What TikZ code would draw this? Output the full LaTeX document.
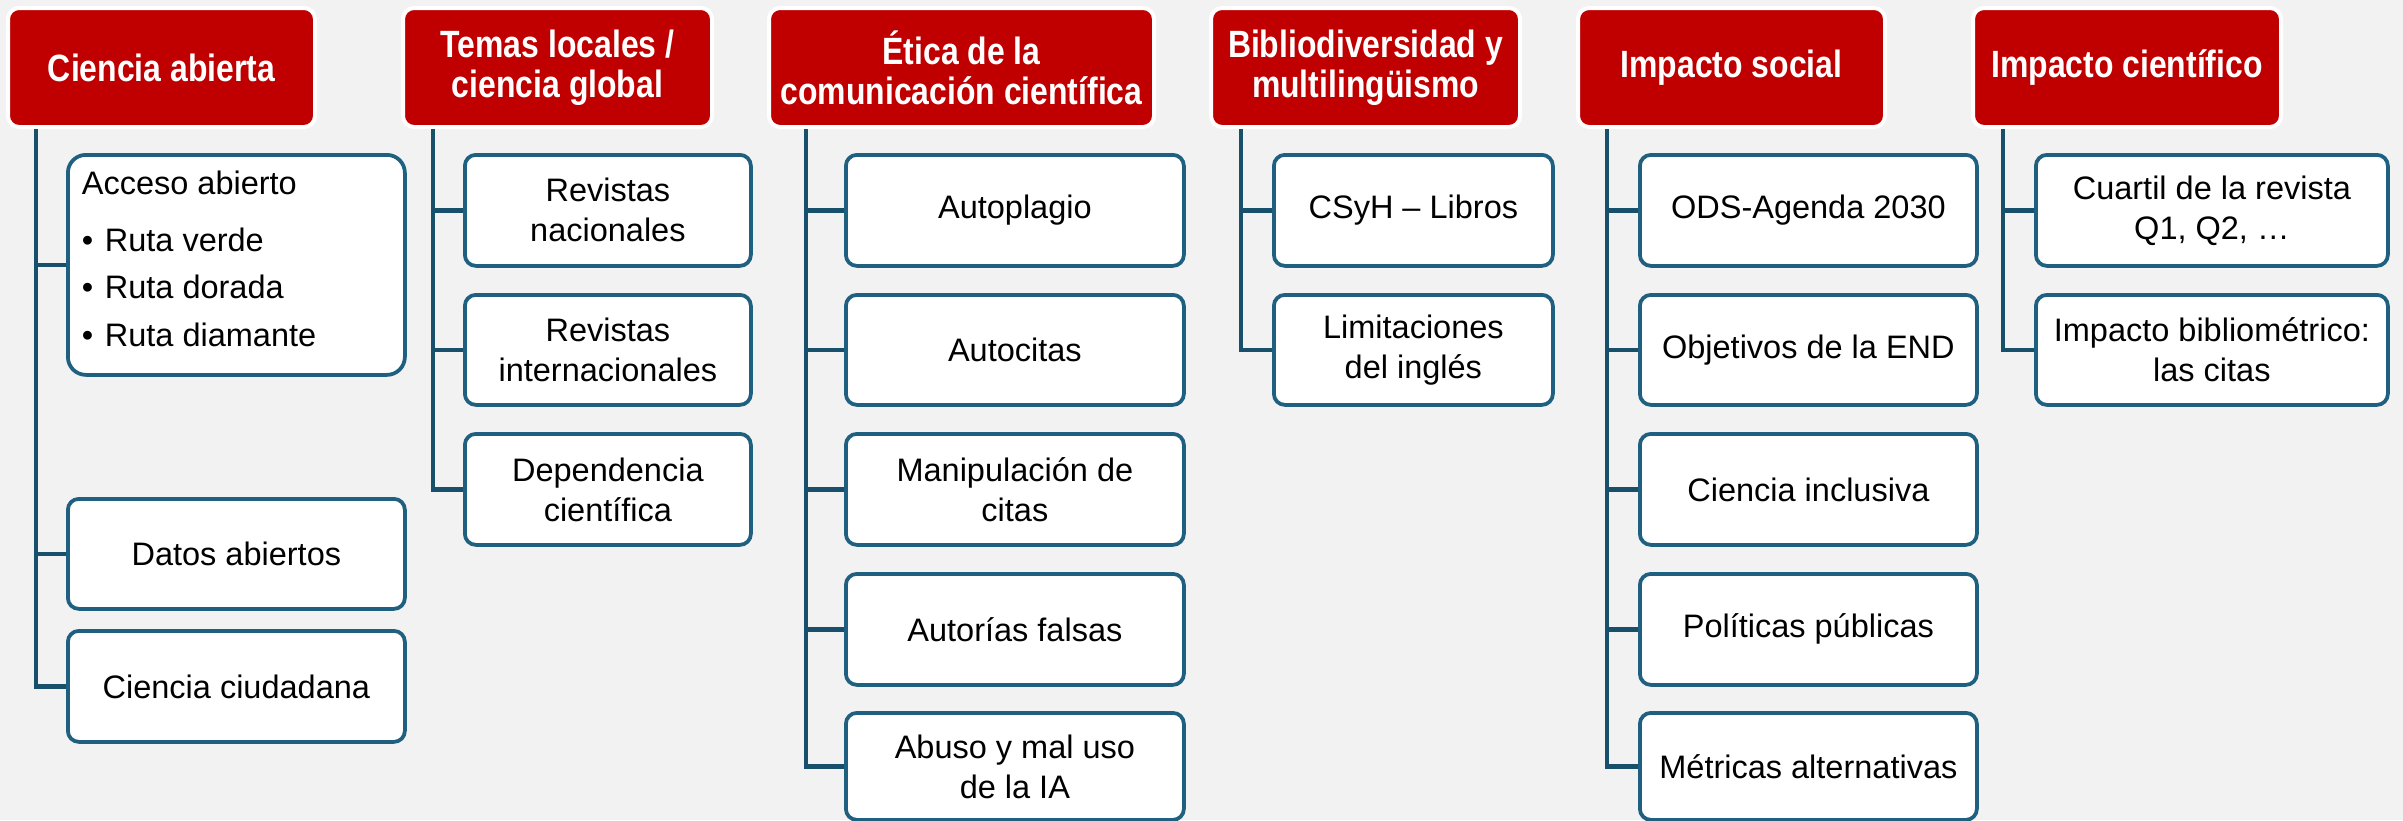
\documentclass[tikz,border=0pt]{standalone}
\usepackage{fontspec}
\setmainfont{Liberation Sans}
\newfontfamily\hdfont[FakeStretch=0.84]{Liberation Sans}
\definecolor{bgc}{HTML}{F2F2F2}
\definecolor{hdred}{HTML}{C00000}
\definecolor{boxblue}{RGB}{31,96,128}
\definecolor{lineblue}{RGB}{24,80,107}
\tikzset{
  head/.style={draw=white, line width=4pt, fill=hdred, rounded corners=11pt, anchor=north west,
    inner sep=0pt, align=center, text=white,
    font=\hdfont\bfseries\fontsize{38}{40}\selectfont},
  leaf/.style={draw=boxblue, line width=3.75pt, fill=white, rounded corners=11pt, anchor=north west,
    inner sep=0pt, align=center, text=black,
    font=\fontsize{32.5}{40}\selectfont},
  conn/.style={draw=lineblue, line width=4.5pt}
}
\begin{document}
\begin{tikzpicture}[x=1pt,y=-1pt]
\useasboundingbox (0,0) rectangle (2403,820);
\fill[bgc] (0,0) rectangle (2403,820);

% headers
\node[head, minimum width=307, minimum height=119] (h1) at (6,6) {Ciencia abierta};
\node[head, minimum width=309, minimum height=119] (h2) at (401,6) {Temas locales /\\ciencia global};
\node[head, minimum width=385, minimum height=119] (h3) at (767,6) {Ética de la\\comunicación científica};
\node[head, minimum width=309, minimum height=119] (h4) at (1209,6) {Bibliodiversidad y\\multilingüismo};
\node[head, minimum width=307, minimum height=119] (h5) at (1576,6) {Impacto social};
\node[head, minimum width=308, minimum height=119] (h6) at (1971,6) {Impacto científico};

% column 1
\node[leaf, minimum width=337, minimum height=220, rounded corners=18pt] (c11) at (66,153)
  {\raisebox{0pt}[\height][\dimexpr\depth+12pt\relax]{\parbox[c]{309pt}{\raggedright\fontsize{32.5}{47.5}\selectfont
   Acceso abierto\\[9.5pt]
   \makebox[23pt][l]{•}Ruta verde\\
   \makebox[23pt][l]{•}Ruta dorada\\
   \makebox[23pt][l]{•}Ruta diamante}}};
\node[leaf, minimum width=337, minimum height=110] (c12) at (66,497) {Datos abiertos};
\node[leaf, minimum width=337, minimum height=111] (c13) at (66,629) {Ciencia ciudadana};

% column 2
\node[leaf, minimum width=286, minimum height=111] (c21) at (463,153) {Revistas\\nacionales};
\node[leaf, minimum width=286, minimum height=110] (c22) at (463,293) {Revistas\\internacionales};
\node[leaf, minimum width=286, minimum height=111] (c23) at (463,432) {Dependencia\\científica};

% column 3
\node[leaf, minimum width=338, minimum height=111] (c31) at (844,153) {Autoplagio};
\node[leaf, minimum width=338, minimum height=110] (c32) at (844,293) {Autocitas};
\node[leaf, minimum width=338, minimum height=111] (c33) at (844,432) {Manipulación de\\citas};
\node[leaf, minimum width=338, minimum height=111] (c34) at (844,572) {Autorías falsas};
\node[leaf, minimum width=338, minimum height=107] (c35) at (844,711) {Abuso y mal uso\\de la IA};

% column 4
\node[leaf, minimum width=279, minimum height=111] (c41) at (1272,153) {CSyH – Libros};
\node[leaf, minimum width=279, minimum height=110] (c42) at (1272,293) {Limitaciones\\del inglés};

% column 5
\node[leaf, minimum width=337, minimum height=111] (c51) at (1638,153) {ODS-Agenda 2030};
\node[leaf, minimum width=337, minimum height=110] (c52) at (1638,293) {Objetivos de la END};
\node[leaf, minimum width=337, minimum height=111] (c53) at (1638,432) {Ciencia inclusiva};
\node[leaf, minimum width=337, minimum height=111] (c54) at (1638,572) {Políticas públicas};
\node[leaf, minimum width=337, minimum height=107] (c55) at (1638,711) {Métricas alternativas};

% column 6
\node[leaf, minimum width=352, minimum height=111] (c61) at (2034,153) {Cuartil de la revista\\Q1, Q2, …};
\node[leaf, minimum width=352, minimum height=110] (c62) at (2034,293) {Impacto bibliométrico:\\las citas};

% connectors
\foreach \c in {c11,c12,c13} \draw[conn] ([xshift=30pt]h1.south west) |- (\c.west);
\foreach \c in {c21,c22,c23} \draw[conn] ([xshift=32pt]h2.south west) |- (\c.west);
\foreach \c in {c31,c32,c33,c34,c35} \draw[conn] ([xshift=39pt]h3.south west) |- (\c.west);
\foreach \c in {c41,c42} \draw[conn] ([xshift=32pt]h4.south west) |- (\c.west);
\foreach \c in {c51,c52,c53,c54,c55} \draw[conn] ([xshift=31pt]h5.south west) |- (\c.west);
\foreach \c in {c61,c62} \draw[conn] ([xshift=32pt]h6.south west) |- (\c.west);
\end{tikzpicture}
\end{document}
